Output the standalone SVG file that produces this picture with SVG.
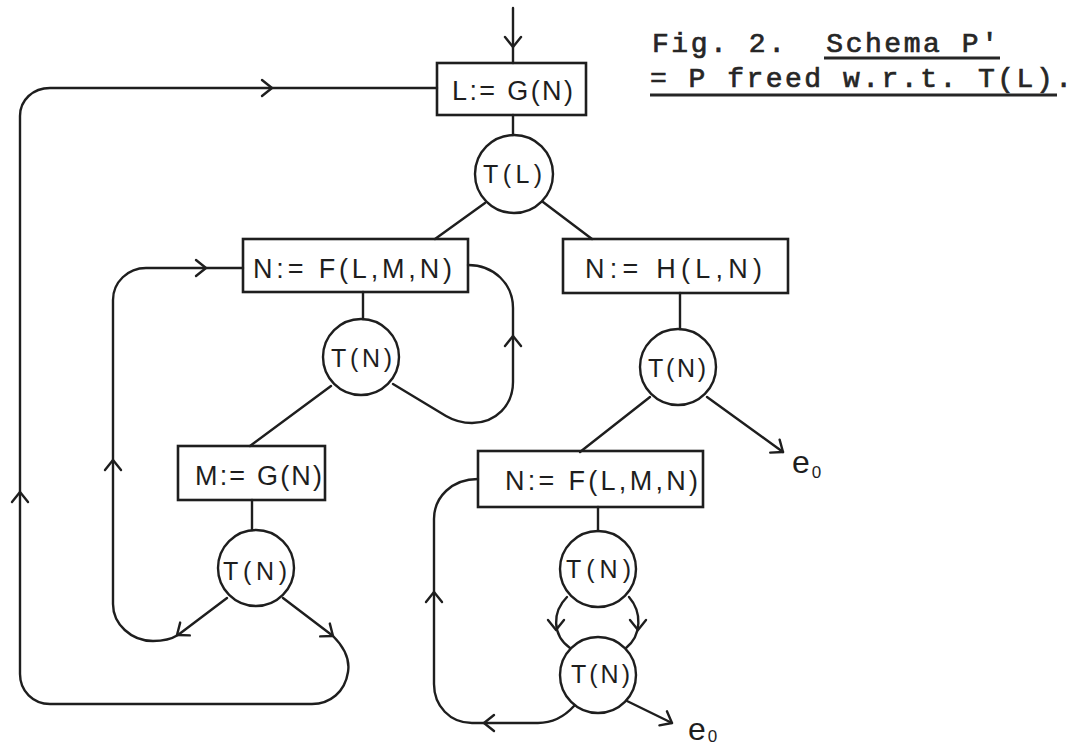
<svg xmlns="http://www.w3.org/2000/svg" xmlns:xlink="http://www.w3.org/1999/xlink" width="1086" height="745" viewBox="0 0 1086 745">
<style>
.box{fill:none;stroke:#1e1e1e;stroke-width:2.6}
.node{fill:none;stroke:#1e1e1e;stroke-width:2.4}
.ln{fill:none;stroke:#1e1e1e;stroke-width:2.4;stroke-linecap:round;stroke-linejoin:round}
.ah{fill:none;stroke:#1e1e1e;stroke-width:2.4;stroke-linecap:round;stroke-linejoin:round}
.lbl{font-family:"Liberation Sans","DejaVu Sans",sans-serif;font-size:27px;fill:#1e1e1e}
.sm{font-family:"Liberation Sans","DejaVu Sans",sans-serif;font-size:25px;fill:#1e1e1e}
.ex{font-family:"Liberation Sans","DejaVu Sans",sans-serif;font-size:32px;fill:#1e1e1e}
.ttl{font-family:"Liberation Mono","DejaVu Sans Mono",monospace;font-size:28px;fill:#262626;stroke:#262626;stroke-width:0.7;white-space:pre}
.ul{stroke:#262626;stroke-width:2.8}
</style>
<defs>
<path id="ah" d="M -10 -8 L 0 0 L -10 8"/>
</defs>
<rect width="1086" height="745" fill="#ffffff"/>

<g id="title">
<text class="ttl" x="652" y="52" textLength="346" lengthAdjust="spacing" xml:space="preserve">Fig. 2.  Schema P'</text>
<text class="ttl" x="650" y="87" textLength="422" lengthAdjust="spacing" xml:space="preserve">= P freed w.r.t. T(L).</text>
<line class="ul" x1="824" y1="58" x2="1000" y2="58"/>
<line class="ul" x1="650" y1="95" x2="1057" y2="95"/>
</g>

<g id="connectors">
<path class="ln" d="M 513 8 L 513 63"/>
<path class="ln" d="M 513 115 L 513 135"/>
<path class="ln" d="M 485 203 L 435 239"/>
<path class="ln" d="M 543 202 L 592 239"/>
<path class="ln" d="M 363 292 L 363 319"/>
<path class="ln" d="M 393 384 L 446 416 Q 458 423 472 423 C 496 423 513 405 513 382 L 513 308 C 513 284 494 265 468 265"/>
<path class="ln" d="M 331 386 L 250 446"/>
<path class="ln" d="M 252 500 L 252 530"/>
<path class="ln" d="M 227 598 L 178 635 C 170 640 162 641 153 641 C 131 641 113 624 113 604 L 113 300 C 113 282 128 268 146 268 L 243 268"/>
<path class="ln" d="M 283 598 L 333 636 C 345 648 350 660 348 672 C 345 692 330 704 312 704 L 50 704 C 33 704 20 691 20 674 L 20 116 C 20 100 33 88 50 88 L 437 88"/>
<path class="ln" d="M 680 293 L 680 329"/>
<path class="ln" d="M 650 397 L 580 452"/>
<path class="ln" d="M 707 397 L 783 452"/>
<path class="ln" d="M 598 507 L 598 531"/>
<path class="ln" d="M 567 597 C 552 612 552 635 570 648"/>
<path class="ln" d="M 629 597 C 642 612 642 635 626 648"/>
<path class="ln" d="M 574 706 C 564 717 553 723 538 723 L 472 723 C 450 723 434 706 434 684 L 434 519 C 434 497 452 479 478 479"/>
<path class="ln" d="M 627 701 L 672 723"/>
<use xlink:href="#ah" class="ah" transform="translate(513 47) rotate(90)"/>
<use xlink:href="#ah" class="ah" transform="translate(272 88)"/>
<use xlink:href="#ah" class="ah" transform="translate(20 492) rotate(-90)"/>
<use xlink:href="#ah" class="ah" transform="translate(113 460) rotate(-90)"/>
<use xlink:href="#ah" class="ah" transform="translate(206 268)"/>
<use xlink:href="#ah" class="ah" transform="translate(513 336) rotate(-90)"/>
<use xlink:href="#ah" class="ah" transform="translate(177 635) rotate(143)"/>
<use xlink:href="#ah" class="ah" transform="translate(333 636) rotate(37)"/>
<use xlink:href="#ah" class="ah" transform="translate(783 452) rotate(36)"/>
<use xlink:href="#ah" class="ah" transform="translate(556 630) rotate(90)"/>
<use xlink:href="#ah" class="ah" transform="translate(638 630) rotate(90)"/>
<use xlink:href="#ah" class="ah" transform="translate(672 723) rotate(28)"/>
<use xlink:href="#ah" class="ah" transform="translate(484 723) rotate(180)"/>
<use xlink:href="#ah" class="ah" transform="translate(434 592) rotate(-90)"/>
</g>

<g id="n-lgn">
<rect class="box" x="437" y="63" width="149" height="52"/>
<text class="lbl" x="452" y="100" textLength="121" lengthAdjust="spacing">L:= G(N)</text>
</g>
<g id="n-tl">
<circle class="node" cx="514" cy="174" r="39"/>
<text class="sm" x="483" y="183" textLength="59" lengthAdjust="spacing">T(L)</text>
</g>
<g id="n-nf1">
<rect class="box" x="243" y="239" width="225" height="53"/>
<text class="lbl" x="253" y="278" textLength="199" lengthAdjust="spacing">N:= F(L,M,N)</text>
</g>
<g id="n-tn1">
<circle class="node" cx="361" cy="357" r="38"/>
<text class="sm" x="331" y="367" textLength="61" lengthAdjust="spacing">T(N)</text>
</g>
<g id="n-mg">
<rect class="box" x="178" y="446" width="147" height="54"/>
<text class="lbl" x="195" y="485" textLength="127" lengthAdjust="spacing">M:= G(N)</text>
</g>
<g id="n-tn2">
<circle class="node" cx="256" cy="568" r="38"/>
<text class="sm" x="223" y="580" textLength="64" lengthAdjust="spacing">T(N)</text>
</g>
<g id="n-nh">
<rect class="box" x="563" y="239" width="225" height="54"/>
<text class="lbl" x="585" y="278" textLength="177" lengthAdjust="spacing">N:= H(L,N)</text>
</g>
<g id="n-tn3">
<circle class="node" cx="678" cy="367" r="38"/>
<text class="sm" x="648" y="377" textLength="58" lengthAdjust="spacing">T(N)</text>
</g>
<g id="n-e0a">
<text class="ex" x="792" y="473">e<tspan font-size="17" dx="2" dy="5">0</tspan></text>
</g>
<g id="n-nf2">
<rect class="box" x="478" y="451" width="225" height="56"/>
<text class="lbl" x="505" y="490" textLength="193" lengthAdjust="spacing">N:= F(L,M,N)</text>
</g>
<g id="n-tn4">
<circle class="node" cx="598" cy="569" r="38"/>
<text class="sm" x="566" y="578" textLength="65" lengthAdjust="spacing">T(N)</text>
</g>
<g id="n-tn5">
<circle class="node" cx="598" cy="675" r="38"/>
<text class="sm" x="571" y="683" textLength="59" lengthAdjust="spacing">T(N)</text>
</g>
<g id="n-e0b">
<text class="ex" x="688" y="740">e<tspan font-size="17" dx="2" dy="2">0</tspan></text>
</g>
</svg>
